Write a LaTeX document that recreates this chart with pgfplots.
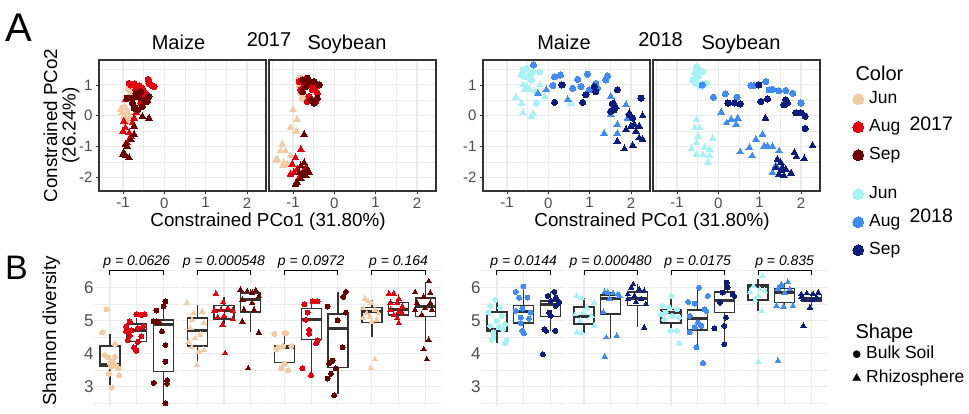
\documentclass[border=0pt]{standalone}
\usepackage{fontspec}
\setmainfont{Liberation Sans}
\usepackage{pgfplots}
\pgfplotsset{compat=1.18}
\usepgfplotslibrary{statistics}
\definecolor{j17}{HTML}{F5C9A2}
\definecolor{a17}{HTML}{E6000D}
\definecolor{s17}{HTML}{6B0000}
\definecolor{j18}{HTML}{A5F2F7}
\definecolor{a18}{HTML}{3F8BFA}
\definecolor{s18}{HTML}{0C1B7E}
\definecolor{gridc}{HTML}{EBEBEB}
\definecolor{framec}{HTML}{333333}
\definecolor{tickc}{HTML}{4D4D4D}
\pgfplotsset{
  circ/.style={only marks, mark=*, mark size=3.1pt, color=#1, mark options={fill=#1, draw=#1, line width=0pt}},
  tri/.style={only marks, mark=triangle*, mark size=3.9pt, color=#1, mark options={fill=#1, draw=#1, line width=0pt}},
  bcirc/.style={only marks, mark=*, mark size=2.5pt, color=#1, mark options={fill=#1, draw=#1, line width=0pt}},
  btri/.style={only marks, mark=triangle*, mark size=3.1pt, color=#1, mark options={fill=#1, draw=#1, line width=0pt}},
  toppanel/.style={anchor=south west, scale only axis, width=167pt, height=131pt,
    xmin=-1.58, xmax=2.46, ymin=-2.45, ymax=1.81,
    xtick={-1,0,1,2}, ytick={-2,-1,0,1},
    minor xtick={-1.5,-0.5,0.5,1.5}, minor ytick={-1.5,-0.5,0.5,1.5},
    grid=both,
    major grid style={line width=1.1pt, draw=gridc},
    minor grid style={line width=0.55pt, draw=gridc},
    axis line style={line width=1.4pt, draw=framec},
    tick align=outside, xtick pos=left, ytick pos=left,
    major tick length=3pt, minor tick length=0pt,
    every tick/.style={line width=0.8pt, draw=framec},
    tick label style={font=\fontsize{15}{15}\selectfont, text=tickc},
    /pgf/number format/assume math mode=true},
  botpanel/.style={anchor=south west, scale only axis, width=85.3pt, height=136.2pt,
    xmin=0.4, xmax=3.6, ymin=2.42, ymax=6.52,
    xtick={1,2,3}, xticklabels={}, ytick={3,4,5,6}, minor ytick={2.5,3.5,4.5,5.5,6.5},
    grid=both,
    major grid style={line width=1.1pt, draw=gridc},
    minor grid style={line width=0.55pt, draw=gridc},
    axis line style={draw=none}, major tick length=0pt, minor tick length=0pt,
    tick label style={font=\fontsize{17}{17}\selectfont, text=tickc},
    yticklabel style={xshift=3pt},
    /pgf/number format/assume math mode=true,
    clip=false,
    boxplot/draw direction=y,
    boxplot/box extend=0.75, boxplot/whisker extend=0},
  legax/.style={hide axis, scale only axis, width=1pt, height=1pt, xmin=0, xmax=1, ymin=0, ymax=1, anchor=south west,
    legend style={draw=none, fill=none, at={(0,0)}, anchor=north west, inner sep=0pt, row sep=12pt, column sep=5.5pt,
      font=\fontsize{17.5}{17.5}\selectfont, nodes={inner sep=0pt, text height=12.6pt, text depth=3.4pt}},
    legend cell align=left}
}
\newcommand{\bx}[6]{\addplot[draw=framec, line width=1.4pt, fill=white,
  boxplot/every box/.style={draw=framec, line width=1.4pt, fill=white},
  boxplot/every whisker/.style={draw=framec, line width=1.4pt},
  boxplot/every median/.style={draw=framec, line width=2.8pt},
  boxplot prepared={draw position=#1, lower whisker=#2, lower quartile=#3, median=#4, upper quartile=#5, upper whisker=#6}] coordinates {};}
\newcommand{\pbr}[1]{\draw[line width=1pt] (axis cs:1,6.37) -- (axis cs:1,6.52) -- (axis cs:3,6.52) -- (axis cs:3,6.37);
  \node[anchor=base, font=\fontsize{14}{14}\selectfont\itshape] at (axis cs:2,6.65) {#1};}
\newcommand{\legc}[1]{\addlegendimage{only marks, mark=*, mark size=5.5pt, color=#1, mark options={fill=#1, draw=#1, line width=0pt}}}
\begin{document}
\begin{tikzpicture}
\path[use as bounding box] (0pt,0pt) rectangle (969pt,413pt);
% ---------------- Panel A, 2017 Maize
\begin{axis}[toppanel, at={(99pt,222pt)}]
\addplot[tri=j17] coordinates {(-1.06,0.19) (-1.02,0.09) (-0.98,-0.02) (-0.94,-0.13) (-1.02,0.25) (-0.90,0.14) (-0.85,0.03) (-0.95,0.30) (-0.81,-0.08) (-0.90,-0.24)};
\addplot[tri=a17] coordinates {(-0.94,0.52) (-0.98,-0.18) (-0.94,-0.40) (-0.85,-0.56) (-0.77,-0.24) (-0.81,-0.67) (-0.90,-0.88) (-0.73,-0.08) (-0.69,0.09) (-1.0,-0.51)};
\addplot[tri=s17] coordinates {(-0.53,-0.02) (-0.37,-0.08) (-0.73,-0.34) (-0.73,-0.61) (-0.94,-0.94) (-0.98,-1.20) (-0.94,-1.31) (-0.85,-1.37) (-0.81,-0.77) (-0.65,0.19) (-0.90,-0.99) (-1.0,-1.25)};
\addplot[circ=j17] coordinates {(-0.84,0.84) (-0.79,0.73) (-0.87,0.89) (-0.81,0.68)};
\addplot[circ=a17] coordinates {(-0.81,1.0) (-0.73,1.03) (-0.61,0.97) (-0.53,0.89) (-0.39,1.18) (-0.37,1.05) (-0.29,0.97) (-0.25,0.95) (-0.45,0.73) (-0.69,0.84) (-0.85,1.05) (-0.49,0.62) (-0.57,0.41)};
\addplot[circ=s17] coordinates {(-0.90,0.57) (-0.77,0.41) (-0.69,0.73) (-0.61,0.60) (-0.49,0.49) (-0.41,0.46) (-0.37,0.62) (-0.53,0.30) (-0.73,0.25) (-0.57,0.78) (-0.65,0.19) (-0.77,0.57)};
\end{axis}
% ---------------- 2017 Soybean
\begin{axis}[toppanel, at={(269pt,222pt)}, yticklabels={}, every major y tick/.append style={draw=none}]
\addplot[tri=j17] coordinates {(-1.0,0.19) (-0.90,-0.13) (-1.06,-0.40) (-0.92,-0.51) (-1.26,-0.94) (-1.30,-1.15) (-1.18,-1.15) (-1.38,-1.42) (-1.22,-1.53) (-1.14,-1.58) (-1.24,-1.63) (-1.42,-1.47) (-1.06,-1.31)};
\addplot[tri=a17] coordinates {(-0.81,-1.10) (-0.94,-1.37) (-1.02,-1.58) (-0.90,-1.74) (-1.06,-1.90) (-0.98,-1.85) (-0.77,-1.85) (-0.69,-1.69) (-0.85,-2.01)};
\addplot[tri=s17] coordinates {(-0.73,-0.61) (-0.73,-1.53) (-0.81,-1.63) (-0.65,-1.74) (-0.85,-1.85) (-0.69,-1.96) (-0.77,-1.90) (-0.90,-2.17) (-0.94,-2.23) (-0.81,-2.06) (-0.69,-1.79) (-0.61,-1.85)};
\addplot[circ=j17] coordinates {(-0.84,1.22) (-0.77,0.89) (-0.81,0.73) (-0.85,1.0) (-0.77,0.57)};
\addplot[circ=a17] coordinates {(-0.85,1.11) (-0.73,1.0) (-0.57,1.0) (-0.45,0.95) (-0.81,0.84) (-0.53,0.84) (-0.41,0.73) (-0.61,0.62) (-0.65,0.46) (-0.45,0.46) (-0.73,1.16)};
\addplot[circ=s17] coordinates {(-0.77,1.16) (-0.65,1.22) (-0.61,1.11) (-0.49,1.11) (-0.37,1.0) (-0.69,0.95) (-0.57,0.52) (-0.49,0.41) (-0.41,0.57) (-0.77,0.78)};
\end{axis}
% ---------------- 2018 Maize
\begin{axis}[toppanel, at={(483pt,222pt)}]
\addplot[tri=j18] coordinates {(-0.78,0.60) (-0.65,0.41) (-0.61,0.09) (-0.41,-0.02) (-0.37,0.06) (-0.57,0.84) (-0.53,0.95) (-0.45,0.84) (-0.21,1.0) (-0.33,0.78) (-0.09,0.62) (0.55,0.41) (-0.61,1.0)};
\addplot[tri=a18] coordinates {(-0.05,0.84) (-0.25,0.73) (0.47,0.52) (1.51,0.62) (1.35,-0.58) (1.67,-0.29) (1.67,-0.58) (1.88,0.35) (1.92,-0.08) (1.51,0.03)};
\addplot[tri=s18] coordinates {(1.63,0.30) (1.96,0.09) (2.0,-0.34) (2.08,-0.29) (2.20,-0.34) (2.28,0.0) (1.88,-0.45) (2.12,-0.51) (2.20,-0.72) (2.28,-0.77) (1.67,-0.83) (1.84,-1.08) (2.04,-0.97) (1.59,0.41)};
\addplot[circ=j18] coordinates {(-0.61,1.48) (-0.53,1.54) (-0.37,1.43) (-0.21,1.43) (-0.65,1.32) (-0.57,1.27) (-0.45,1.32) (-0.29,0.41) (-0.41,1.16)};
\addplot[circ=a18] coordinates {(0.15,1.27) (0.29,1.32) (0.11,0.98) (0.71,1.18) (0.95,1.35) (1.43,1.29) (1.39,1.16) (0.59,0.89) (0.79,0.95) (1.15,1.05) (0.99,0.84) (1.19,0.89) (-0.36,1.65)};
\addplot[circ=s18] coordinates {(0.33,1.0) (0.15,0.43) (0.83,0.43) (0.91,0.68) (1.15,0.78) (1.55,0.39) (1.51,0.14) (1.67,0.84) (2.24,0.57) (1.96,0.03) (2.04,-0.08) (1.59,0.19) (1.11,0.95)};
\end{axis}
% ---------------- 2018 Soybean
\begin{axis}[toppanel, at={(653pt,222pt)}, yticklabels={}, every major y tick/.append style={draw=none}]
\addplot[tri=j18] coordinates {(-0.53,-0.13) (-0.57,-0.40) (-0.45,-0.40) (-0.49,-0.67) (-0.13,-0.74) (-0.53,-0.88) (-0.65,-1.08) (-0.33,-1.04) (-0.21,-1.10) (-0.53,-1.26) (-0.37,-1.28) (-0.21,-1.31) (-0.25,-1.53)};
\addplot[tri=a18] coordinates {(0.07,0.11) (0.31,-0.13) (0.47,-0.08) (0.20,-0.24) (0.43,-0.29) (0.91,-0.77) (1.07,-0.61) (1.11,-0.99) (1.19,-0.99) (1.31,-1.01) (0.75,-1.04) (0.53,-1.18) (0.82,-1.31) (1.47,-1.15) (1.39,-1.63) (1.31,-1.85)};
\addplot[tri=s18] coordinates {(1.14,-0.08) (2.28,-0.97) (1.84,-1.20) (1.89,-1.33) (2.08,-1.40) (1.43,-1.42) (1.51,-1.53) (1.55,-1.69) (1.47,-1.90) (1.59,-1.96) (1.76,-1.87) (1.39,-1.69) (1.51,-1.79) (1.63,-1.74)};
\addplot[circ=j18] coordinates {(-0.53,1.59) (-0.45,1.48) (-0.37,1.43) (-0.57,1.38) (-0.61,1.16) (-0.53,1.05) (-0.41,0.95) (-0.29,1.05) (-0.49,1.27)};
\addplot[circ=a18] coordinates {(-0.12,0.60) (0.17,0.71) (0.45,0.60) (0.79,0.98) (0.87,0.98) (1.15,1.11) (1.23,0.84) (1.31,0.86) (1.46,0.81) (1.63,0.82) (1.80,0.73) (2.0,0.41) (-0.39,1.0)};
\addplot[circ=s18] coordinates {(0.98,1.0) (0.23,0.41) (0.39,0.41) (0.53,0.38) (1.03,0.46) (1.19,0.54) (1.63,0.52) (1.67,0.41) (1.59,0.35) (1.88,0.09) (2.0,0.09) (2.10,-0.02) (2.10,-0.42)};
\end{axis}
% ---------------- Panel B 2017
\begin{axis}[botpanel, at={(94pt,6.8pt)}]
\bx{1}{2.98}{3.61}{3.68}{4.23}{4.60}
\bx{2}{4.21}{4.37}{4.71}{4.89}{5.08}
\bx{3}{2.51}{3.47}{4.88}{5.01}{5.58}
\addplot[bcirc=j17] coordinates {(0.87,5.34) (0.71,4.64) (0.79,3.96) (1.19,4.29) (0.94,3.89) (1.09,3.76) (1.0,3.71) (1.19,3.66) (1.25,3.63) (1.04,3.61) (1.31,3.56) (0.96,3.40) (1.34,3.35) (1.06,2.98) (1.19,3.91)};
\addplot[bcirc=a17] coordinates {(1.74,4.97) (1.99,5.19) (2.18,5.17) (2.30,5.19) (1.61,4.67) (1.80,4.70) (2.05,4.77) (2.24,4.82) (1.67,4.41) (1.90,4.19) (1.99,4.09) (2.18,4.52) (1.74,4.54) (2.05,4.36) (1.61,4.82)};
\addplot[bcirc=s17] coordinates {(3.08,5.58) (3.01,5.42) (2.74,5.30) (2.64,4.97) (2.82,4.95) (2.95,4.67) (3.08,4.26) (3.08,3.76) (2.64,3.12) (3.14,3.10) (3.08,2.51) (2.76,4.97) (3.14,3.2)};
\pbr{p = 0.0626}
\end{axis}
\begin{axis}[botpanel, at={(181.3pt,6.8pt)}, yticklabels={}]
\bx{1}{3.66}{4.23}{4.69}{5.07}{5.47}
\bx{2}{4.89}{5.05}{5.30}{5.45}{5.71}
\bx{3}{4.64}{5.25}{5.63}{5.83}{5.95}
\addplot[btri=j17] coordinates {(0.61,5.53) (0.86,5.22) (1.18,5.27) (0.80,5.02) (1.24,4.92) (0.74,4.77) (1.11,4.57) (0.92,4.46) (0.80,4.19) (1.24,4.11) (1.05,4.06) (0.99,3.66) (0.67,4.36)};
\addplot[btri=a17] coordinates {(1.70,5.81) (1.97,5.55) (1.64,5.30) (1.89,5.32) (2.14,5.37) (2.33,5.30) (1.76,5.10) (2.01,5.14) (2.33,5.04) (1.95,4.87) (2.04,4.01)};
\addplot[btri=s17] coordinates {(2.62,5.93) (2.87,5.88) (3.06,5.83) (3.31,5.73) (2.69,5.63) (3.06,5.53) (2.75,5.32) (3.13,5.32) (2.69,4.97) (3.31,4.64) (2.91,3.56) (3.19,5.91)};
\pbr{p = 0.000548}
\end{axis}
\begin{axis}[botpanel, at={(268.6pt,6.8pt)}, yticklabels={}]
\bx{1}{3.63}{3.73}{4.18}{4.24}{4.64}
\bx{2}{3.35}{4.43}{5.04}{5.36}{5.55}
\bx{3}{2.78}{3.59}{4.75}{5.20}{5.85}
\addplot[bcirc=j17] coordinates {(0.62,4.60) (1.0,4.62) (1.06,4.62) (0.75,4.19) (0.94,4.23) (1.25,4.23) (0.69,4.13) (0.87,3.56) (1.13,3.50) (1.0,3.70)};
\addplot[bcirc=a17] coordinates {(1.74,5.49) (2.05,5.58) (2.24,5.58) (1.86,5.24) (1.92,4.72) (1.92,4.60) (2.24,4.41) (2.18,4.31) (1.67,3.56) (1.99,3.35) (1.80,5.02)};
\addplot[bcirc=s17] coordinates {(3.30,5.86) (3.20,5.71) (2.61,5.42) (3.30,5.24) (2.99,5.0) (3.18,4.19) (2.80,3.79) (2.92,3.56) (2.74,3.40) (2.61,3.25) (2.86,2.75) (2.67,3.71)};
\pbr{p = 0.0972}
\end{axis}
\begin{axis}[botpanel, at={(355.9pt,6.8pt)}, yticklabels={}]
\bx{1}{4.49}{4.94}{5.27}{5.40}{5.63}
\bx{2}{4.92}{5.17}{5.32}{5.55}{5.79}
\bx{3}{4.36}{5.12}{5.42}{5.68}{6.15}
\addplot[btri=j17] coordinates {(0.74,5.65) (0.86,5.58) (0.99,5.53) (0.67,5.37) (1.11,5.32) (0.80,5.22) (1.24,5.22) (0.92,5.12) (0.67,5.07) (0.99,4.97) (1.18,5.02) (1.11,3.83) (0.96,3.56)};
\addplot[btri=a17] coordinates {(1.64,5.81) (1.82,5.81) (2.01,5.65) (1.70,5.53) (1.95,5.53) (2.14,5.42) (1.70,5.32) (2.01,5.27) (2.14,5.22) (1.95,5.07) (2.01,4.92) (1.82,5.17)};
\addplot[btri=s17] coordinates {(3.13,6.18) (2.62,5.85) (3.19,5.83) (2.94,5.71) (2.69,5.53) (3.19,5.53) (3.0,5.37) (2.62,5.32) (3.25,5.32) (2.87,5.17) (3.13,4.41) (2.94,4.13) (3.06,3.83)};
\pbr{p = 0.164}
\end{axis}
% ---------------- Panel B 2018
\begin{axis}[botpanel, at={(481pt,6.8pt)}]
\bx{1}{4.31}{4.66}{4.74}{5.26}{5.56}
\bx{2}{4.62}{4.92}{5.26}{5.46}{6.02}
\bx{3}{4.69}{5.12}{5.49}{5.59}{5.86}
\addplot[bcirc=j18] coordinates {(0.93,5.62) (0.74,5.44) (1.11,5.39) (0.68,5.24) (1.17,5.14) (0.99,4.99) (1.30,4.89) (0.74,4.84) (1.05,4.79) (1.23,4.74) (0.86,4.64) (0.86,4.49) (0.80,4.42) (1.36,4.39) (1.30,4.31)};
\addplot[bcirc=a18] coordinates {(1.99,6.02) (1.70,5.86) (1.83,5.69) (2.14,5.69) (1.70,5.29) (1.95,5.36) (2.26,5.24) (1.89,5.09) (2.20,5.06) (1.89,4.92) (2.01,4.62) (1.95,4.69)};
\addplot[bcirc=s18] coordinates {(3.15,5.86) (2.90,5.74) (3.21,5.69) (3.02,5.59) (3.33,5.56) (3.21,5.44) (2.96,5.24) (3.02,5.14) (2.78,4.74) (2.84,4.69) (3.19,4.69) (2.72,3.98)};
\pbr{p = 0.0144}
\end{axis}
\begin{axis}[botpanel, at={(568pt,6.8pt)}, yticklabels={}]
\bx{1}{4.62}{4.89}{5.12}{5.41}{5.69}
\bx{2}{4.46}{5.19}{5.66}{5.77}{5.86}
\bx{3}{4.79}{5.46}{5.66}{5.86}{6.09}
\addplot[btri=j18] coordinates {(0.73,5.74) (0.91,5.69) (1.38,5.54) (1.10,5.39) (0.67,5.19) (0.98,5.24) (1.28,5.14) (0.85,4.99) (1.38,4.84) (0.73,4.64) (0.91,4.64)};
\addplot[btri=a18] coordinates {(1.78,5.86) (1.90,5.84) (2.09,5.82) (2.27,5.79) (2.33,5.74) (1.96,5.66) (1.72,5.26) (1.84,4.49) (2.23,4.54) (1.78,3.91)};
\addplot[btri=s18] coordinates {(2.85,6.09) (2.77,5.99) (3.07,5.94) (3.26,5.89) (2.64,5.79) (2.89,5.74) (3.14,5.64) (2.64,5.64) (2.95,5.56) (3.32,5.49) (3.26,4.79)};
\pbr{p = 0.000480}
\end{axis}
\begin{axis}[botpanel, at={(655pt,6.8pt)}, yticklabels={}]
\bx{1}{4.69}{4.92}{5.24}{5.34}{5.74}
\bx{2}{4.16}{4.71}{5.06}{5.32}{5.99}
\bx{3}{4.26}{5.24}{5.59}{5.86}{6.16}
\addplot[bcirc=j18] coordinates {(1.02,5.74) (0.68,5.44) (0.93,5.39) (1.23,5.34) (0.80,5.24) (1.05,5.14) (0.74,5.04) (1.30,5.09) (0.99,4.69) (1.23,4.69) (1.30,4.31) (0.62,5.19)};
\addplot[bcirc=a18] coordinates {(2.05,5.99) (2.38,5.74) (1.64,5.56) (1.89,5.51) (2.26,5.34) (1.70,5.14) (2.01,4.94) (1.89,4.79) (2.14,4.84) (1.70,4.64) (1.95,4.19) (2.20,3.72) (2.32,5.29)};
\addplot[bcirc=s18] coordinates {(3.09,6.14) (3.12,5.99) (3.31,5.79) (2.94,5.84) (2.84,5.54) (3.37,5.74) (3.06,5.09) (2.63,4.76) (3.0,4.84) (3.0,4.29)};
\pbr{p = 0.0175}
\end{axis}
\begin{axis}[botpanel, at={(742pt,6.8pt)}, yticklabels={}]
\bx{1}{5.29}{5.62}{6.02}{6.09}{6.24}
\bx{2}{5.44}{5.54}{5.84}{5.96}{6.12}
\bx{3}{5.44}{5.59}{5.66}{5.79}{5.86}
\addplot[btri=j18] coordinates {(1.17,6.34) (0.83,6.04) (1.07,5.94) (1.26,5.89) (0.70,5.86) (1.01,5.74) (0.89,5.62) (1.14,5.29) (1.01,3.76)};
\addplot[btri=a18] coordinates {(1.88,6.09) (2.12,6.16) (1.75,5.96) (2.19,5.94) (2.0,5.84) (1.69,5.44) (1.96,5.42) (2.31,5.44) (1.75,3.79) (1.88,6.05)};
\addplot[btri=s18] coordinates {(2.62,5.79) (2.83,5.82) (3.07,5.79) (3.26,5.84) (2.70,5.64) (3.01,5.62) (3.20,5.69) (2.95,5.39) (2.70,4.84) (2.62,5.70)};
\pbr{p = 0.835}
\end{axis}
% ---------------- Legends
\begin{axis}[legax, at={(852.5pt,322pt)}]
\legc{j17}\addlegendentry{Jun}
\legc{a17}\addlegendentry{Aug}
\legc{s17}\addlegendentry{Sep}
\end{axis}
\begin{axis}[legax, at={(852.5pt,227pt)}]
\legc{j18}\addlegendentry{Jun}
\legc{a18}\addlegendentry{Aug}
\legc{s18}\addlegendentry{Sep}
\end{axis}
\begin{axis}[legax, at={(852.5pt,67pt)}, legend style={row sep=8pt}]
\addlegendimage{only marks, mark=*, mark size=3.6pt, color=black}
\addlegendentry{Bulk Soil}
\addlegendimage{only marks, mark=triangle*, mark size=4.6pt, color=black}
\addlegendentry{Rhizosphere}
\end{axis}
% ---------------- Texts
\node[anchor=base west, font=\fontsize{20}{20}\selectfont] at (852pt,332pt) {Color};
\node[anchor=base west, font=\fontsize{20}{20}\selectfont] at (852pt,75pt) {Shape};
\node[anchor=base west, font=\fontsize{19.5}{19.5}\selectfont] at (906pt,282pt) {2017};
\node[anchor=base west, font=\fontsize{19.5}{19.5}\selectfont] at (906pt,191pt) {2018};
\node[anchor=base, font=\fontsize{20}{20}\selectfont] at (178.5pt,363pt) {Maize};
\node[anchor=base, font=\fontsize{20}{20}\selectfont] at (269pt,366pt) {2017};
\node[anchor=base, font=\fontsize{20}{20}\selectfont] at (347pt,363pt) {Soybean};
\node[anchor=base, font=\fontsize{20}{20}\selectfont] at (564pt,363pt) {Maize};
\node[anchor=base, font=\fontsize{20}{20}\selectfont] at (660.5pt,366pt) {2018};
\node[anchor=base, font=\fontsize{20}{20}\selectfont] at (741pt,363pt) {Soybean};
\node[anchor=base, font=\fontsize{18.8}{18.8}\selectfont] at (268pt,187pt) {Constrained PCo1 (31.80\%)};
\node[anchor=base, font=\fontsize{18.8}{18.8}\selectfont] at (652pt,187pt) {Constrained PCo1 (31.80\%)};
\node[anchor=base, rotate=90, font=\fontsize{18.8}{18.8}\selectfont] at (57pt,287.5pt) {Constrained PCo2};
\node[anchor=base, rotate=90, font=\fontsize{18.8}{18.8}\selectfont] at (75.7pt,287.5pt) {(26.24\%)};
\node[anchor=base, rotate=90, font=\fontsize{18.8}{18.8}\selectfont] at (56pt,82pt) {Shannon diversity};
\node[anchor=base west, inner sep=0pt, font=\fontsize{40}{40}\selectfont] at (5pt,371pt) {A};
\node[anchor=base west, inner sep=0pt, font=\fontsize{34}{34}\selectfont] at (5pt,134pt) {B};
\end{tikzpicture}
\end{document}
